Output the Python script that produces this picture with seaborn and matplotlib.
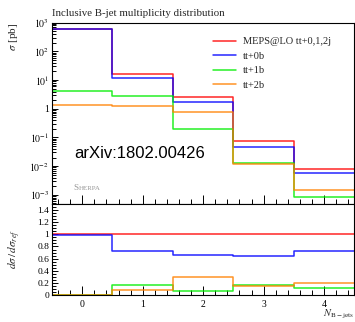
import matplotlib
matplotlib.use("Agg")
import matplotlib.pyplot as plt
import seaborn as sns
import numpy as np
import pandas as pd
from matplotlib.ticker import FixedLocator, MultipleLocator, FuncFormatter, NullFormatter

# ---- data ----
bin_edges = [-0.5, 0.5, 1.5, 2.5, 3.5, 4.5]
n_bjets = [0, 1, 2, 3, 4]
series_names = ["MEPS@LO tt+0,1,2j", "tt+0b", "tt+1b", "tt+2b"]
meps_lo = [590, 16, 2.6, 0.074, 0.0079]
tt_0b = [584, 11.5, 1.7, 0.048, 0.0057]
tt_1b = [4.1, 2.7, 0.19, 0.0127, 0.00085]
tt_2b = [1.4, 1.3, 0.76, 0.0115, 0.0015]
colors = ["#ff0000", "#0000ff", "#00ee00", "#ff8000"]
y_decades = [-3, -2, -1, 0, 1, 2, 3]
ratio_ticks = [0, 0.2, 0.4, 0.6, 0.8, 1.0, 1.2, 1.4]

sns.set_theme(style="ticks")
plt.rcParams["font.family"] = ["Liberation Serif", "DejaVu Serif"]
plt.rcParams["mathtext.fontset"] = "stix"

W, H = 355, 322
fig = plt.figure(figsize=(W / 100, H / 100), dpi=100)
L, R = 52, 354.3
T1, B1, B2 = 22.7, 204, 295
ax1 = fig.add_axes([L / W, 1 - B1 / H, (R - L) / W, (B1 - T1) / H])
ax2 = fig.add_axes([L / W, 1 - B2 / H, (R - L) / W, (B2 - B1) / H], sharex=ax1)

all_series = [meps_lo, tt_0b, tt_1b, tt_2b]
rows, rrows = [], []
for name, vals in zip(series_names, all_series):
    ys = list(vals) + [vals[-1]]
    ratio = [v / r for v, r in zip(vals, meps_lo)]
    rs = ratio + [ratio[-1]]
    for x, y, r in zip(bin_edges, ys, rs):
        rows.append({"x": x, "y": y, "series": name})
        rrows.append({"x": x, "y": r, "series": name})
df = pd.DataFrame(rows)
rdf = pd.DataFrame(rrows)
pal = dict(zip(series_names, colors))

sns.lineplot(data=df, x="x", y="y", hue="series", hue_order=series_names,
             palette=pal, drawstyle="steps-post", estimator=None, sort=False,
             linewidth=1.1, alpha=0.85, ax=ax1)
sns.lineplot(data=rdf, x="x", y="y", hue="series", hue_order=series_names,
             palette=pal, drawstyle="steps-post", estimator=None, sort=False,
             linewidth=1.1, alpha=0.85, ax=ax2, legend=False)

ax1.set_yscale("log")
ymin, ymax = 4.8e-4, 1e3
ax1.set_ylim(ymin, ymax)
ax1.set_xlim(-0.5, 4.5)
ax2.set_ylim(0, 1.5)

def logfmt(v, pos):
    e = int(round(np.log10(v)))
    if e == 0:
        return "1"
    return r"$10^{%d}$" % e

major_y = [10.0 ** e for e in y_decades]
minor_y = [m * 10.0 ** e for e in range(-4, 3) for m in range(2, 10)
           if ymin <= m * 10.0 ** e <= ymax]
ax1.yaxis.set_major_locator(FixedLocator(major_y))
ax1.yaxis.set_minor_locator(FixedLocator(minor_y))
ax1.yaxis.set_major_formatter(FuncFormatter(logfmt))
ax1.yaxis.set_minor_formatter(NullFormatter())
ax1.xaxis.set_major_locator(FixedLocator(n_bjets))
ax1.xaxis.set_minor_locator(MultipleLocator(0.2))
ax2.yaxis.set_major_locator(FixedLocator(ratio_ticks))
ax2.yaxis.set_minor_locator(FixedLocator(list(np.arange(0, 1.5, 0.05))))
ax2.yaxis.set_major_formatter(FuncFormatter(lambda v, p: "%g" % round(v, 2)))
ax2.yaxis.set_minor_formatter(NullFormatter())

for ax in (ax1, ax2):
    ax.tick_params(axis="both", which="both", direction="in", top=False, right=False,
                   labelsize=7, width=0.7, colors="black")
    ax.tick_params(axis="x", which="major", length=6.5, pad=3.5)
    ax.tick_params(axis="x", which="minor", length=3.3)
    ax.tick_params(axis="y", which="major", length=4.5, pad=2)
    ax.tick_params(axis="y", which="minor", length=2.6)
    for s in ax.spines.values():
        s.set_linewidth(0.8)
        s.set_color("black")
        s.set_visible(True)
    ax.set_xlabel("")
    ax.set_ylabel("")
ax2.tick_params(axis="y", which="major", labelsize=6.8)
plt.setp(ax1.get_xticklabels(), visible=False)

ax1.set_title("Inclusive B-jet multiplicity distribution", loc="left", fontsize=7.8, pad=5)
ax1.set_ylabel(r"$\sigma$ [pb]", loc="top", fontsize=8)
ax1.yaxis.set_label_coords((20 - L) / (R - L), 1.0)
ax2.set_ylabel(r"$d\sigma\,/\,d\sigma_{ref}$", fontsize=8)
ax2.yaxis.set_label_coords((23 - L) / (R - L), 0.5)
ax2.set_xlabel(r"$N_{\mathrm{B-jets}}$", loc="right", fontsize=7.5, labelpad=-0.5)

leg = ax1.legend(loc="upper left", bbox_to_anchor=(212.7 / W, 1 - 37 / H),
                 bbox_transform=fig.transFigure, frameon=False, fontsize=7.5,
                 handlelength=2.25, handletextpad=0.65, labelspacing=0.5,
                 borderpad=0, borderaxespad=0, title=None)
for lh in leg.get_lines():
    lh.set_linewidth(1.1)

ax1.text((74 - L) / (R - L), (B1 - 154) / (B1 - T1), "arXiv:1802.00426",
         transform=ax1.transAxes, fontsize=12, family="Liberation Sans",
         va="center", ha="left", color="black")
fig.text(73 / W, 1 - 190.5 / H, "S", fontsize=6.6, color="#999999",
         ha="left", va="baseline")
fig.text(78.6 / W, 1 - 190.5 / H, "HERPA", fontsize=5.0, color="#999999",
         ha="left", va="baseline")

fig.savefig("out.png", dpi=100)
